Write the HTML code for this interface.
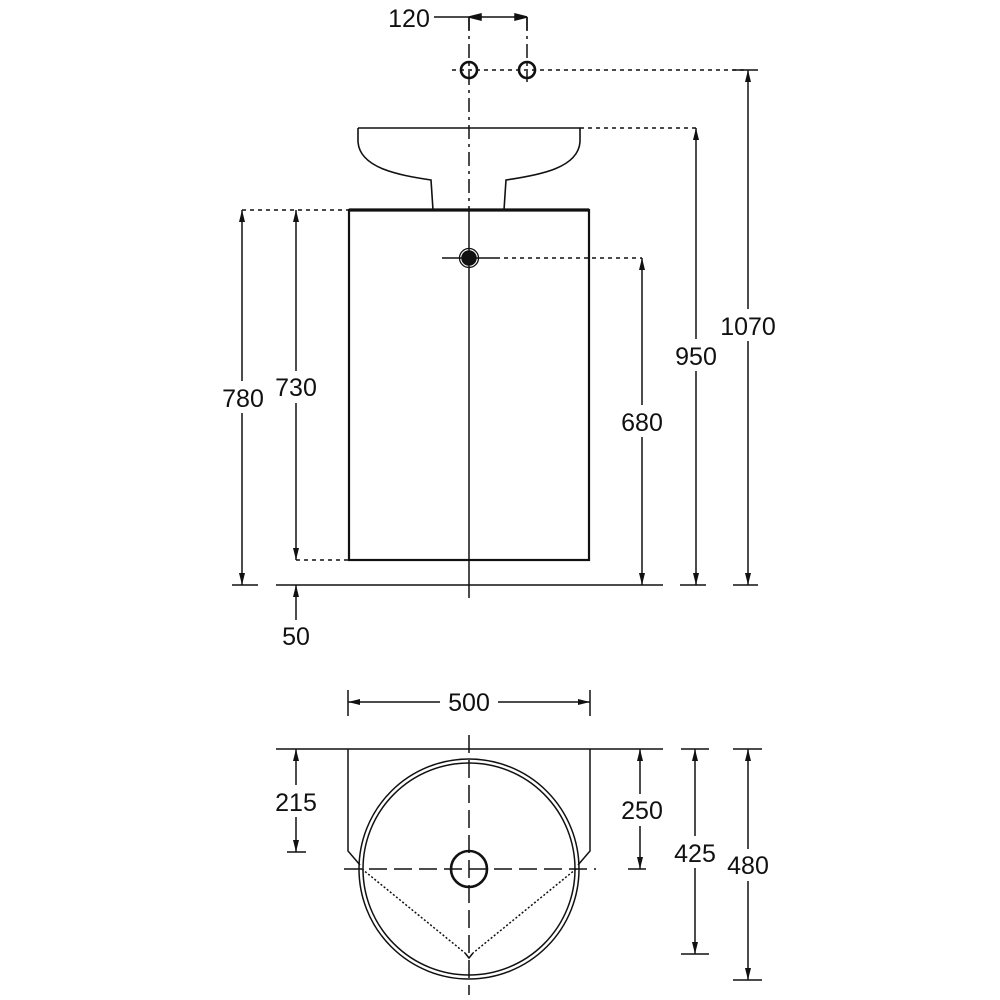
<!DOCTYPE html>
<html><head><meta charset="utf-8"><style>
html,body{margin:0;padding:0;background:#fff}
svg{display:block}
text{font-family:"Liberation Sans",sans-serif;font-size:25px;fill:#111;text-anchor:middle}
</style></head><body>
<svg width="1000" height="1000" viewBox="0 0 1000 1000">
<defs>
<marker id="a" viewBox="0 0 12 6" refX="12" refY="3" markerWidth="12" markerHeight="6" orient="auto-start-reverse" markerUnits="userSpaceOnUse"><path d="M0,0 L12,3 L0,6 Z" fill="#111"/></marker>
</defs>
<g stroke="#111" fill="none" stroke-width="1.5">
<line x1="434" y1="17" x2="527" y2="17"/>
<line x1="469" y1="30" x2="469" y2="17"/>
<line x1="527" y1="17" x2="527" y2="30"/>
<path d="M469,17 L481,14 L481,20Z M527,17 L515,14 L515,20Z" fill="#111"/>
<line x1="469" y1="17" x2="469" y2="210" stroke-dasharray="14,5,3,5"/>
<line x1="527" y1="17" x2="527" y2="82" stroke-dasharray="14,5,3,5"/>
<line x1="469" y1="210" x2="469" y2="598"/>
<line x1="452" y1="70" x2="748" y2="70" stroke-dasharray="4,4"/>
<circle cx="469" cy="70" r="8" stroke-width="2.6"/>
<circle cx="527" cy="70" r="8" stroke-width="2.6"/>
<path d="M358,128 H580 V142 C578,168 540,175 506,180 L504,210 M358,128 V142 C360,168 398,175 431,180 L433,210" stroke-width="1.6"/>
<line x1="580" y1="128" x2="696" y2="128" stroke-dasharray="4,4"/>
<rect x="349" y="210" width="240" height="350" stroke-width="2.2"/>
<line x1="349" y1="210" x2="589" y2="210" stroke-width="3.2"/>
<line x1="242" y1="210" x2="349" y2="210" stroke-dasharray="4,4"/>
<line x1="296" y1="560" x2="349" y2="560" stroke-dasharray="4,4"/>
<line x1="442" y1="258" x2="496" y2="258"/>
<line x1="496" y1="258" x2="642" y2="258" stroke-dasharray="4,4"/>
<circle cx="469" cy="258" r="9.5" stroke-width="1.3"/>
<circle cx="469" cy="258" r="7" fill="#111"/>
<line x1="276" y1="585" x2="663" y2="585"/>
<line x1="232" y1="585" x2="258" y2="585"/>
<line x1="680" y1="585" x2="706" y2="585"/>
<line x1="733" y1="585" x2="758" y2="585"/>
<line x1="733" y1="70" x2="758" y2="70"/>
<line x1="242" y1="210" x2="242" y2="585" marker-start="url(#a)" marker-end="url(#a)"/>
<line x1="296" y1="210" x2="296" y2="560" marker-start="url(#a)" marker-end="url(#a)"/>
<line x1="296" y1="620" x2="296" y2="585" marker-end="url(#a)"/>
<line x1="642" y1="258" x2="642" y2="585" marker-start="url(#a)" marker-end="url(#a)"/>
<line x1="696" y1="128" x2="696" y2="585" marker-start="url(#a)" marker-end="url(#a)"/>
<line x1="748" y1="70" x2="748" y2="585" marker-start="url(#a)" marker-end="url(#a)"/>
<line x1="348" y1="690" x2="348" y2="716"/>
<line x1="590" y1="690" x2="590" y2="716"/>
<line x1="348" y1="702" x2="590" y2="702" marker-start="url(#a)" marker-end="url(#a)"/>
<line x1="276" y1="749" x2="663" y2="749"/>
<line x1="681" y1="749" x2="709" y2="749"/>
<line x1="733" y1="749" x2="762" y2="749"/>
<path d="M348,749 V851 L360,865 M590,749 V851 L578,865"/>
<circle cx="469" cy="869" r="110" stroke-width="1.5"/>
<circle cx="469" cy="869" r="106" stroke-width="1.5"/>
<circle cx="469" cy="869" r="18" stroke-width="2.6"/>
<line x1="469" y1="735" x2="469" y2="995" stroke-dasharray="18,7"/>
<line x1="344" y1="869" x2="596" y2="869" stroke-dasharray="18,7"/>
<path d="M362,869 L465,953 M576,869 L473,953" stroke-dasharray="2,2"/>
<path d="M465,953 L469,958 L473,953" />
<line x1="287" y1="852" x2="306" y2="852"/>
<line x1="628" y1="869" x2="646" y2="869"/>
<line x1="681" y1="954" x2="709" y2="954"/>
<line x1="733" y1="980" x2="762" y2="980"/>
<line x1="296" y1="749" x2="296" y2="852" marker-start="url(#a)" marker-end="url(#a)"/>
<line x1="640" y1="749" x2="640" y2="869" marker-start="url(#a)" marker-end="url(#a)"/>
<line x1="695" y1="749" x2="695" y2="954" marker-start="url(#a)" marker-end="url(#a)"/>
<line x1="748" y1="749" x2="748" y2="980" marker-start="url(#a)" marker-end="url(#a)"/>
</g>
<g stroke="none" fill="#fff">
<rect x="218" y="381" width="50" height="32" />
<rect x="270" y="371" width="52" height="32" />
<rect x="615" y="405" width="54" height="32" />
<rect x="669" y="339" width="54" height="32" />
<rect x="714" y="309" width="68" height="32" />
<rect x="440" y="686" width="58" height="30" />
<rect x="268" y="785" width="56" height="32" />
<rect x="613" y="794" width="56" height="32" />
<rect x="668" y="836" width="54" height="32" />
<rect x="721" y="849" width="54" height="32" />
</g>
<text x="409" y="27">120</text>
<text x="243" y="407">780</text>
<text x="296" y="396">730</text>
<text x="296" y="645">50</text>
<text x="642" y="431">680</text>
<text x="696" y="365">950</text>
<text x="748" y="335">1070</text>
<text x="469" y="711">500</text>
<text x="296" y="811">215</text>
<text x="642" y="819">250</text>
<text x="695" y="862">425</text>
<text x="748" y="874">480</text>
</svg>
</body></html>
